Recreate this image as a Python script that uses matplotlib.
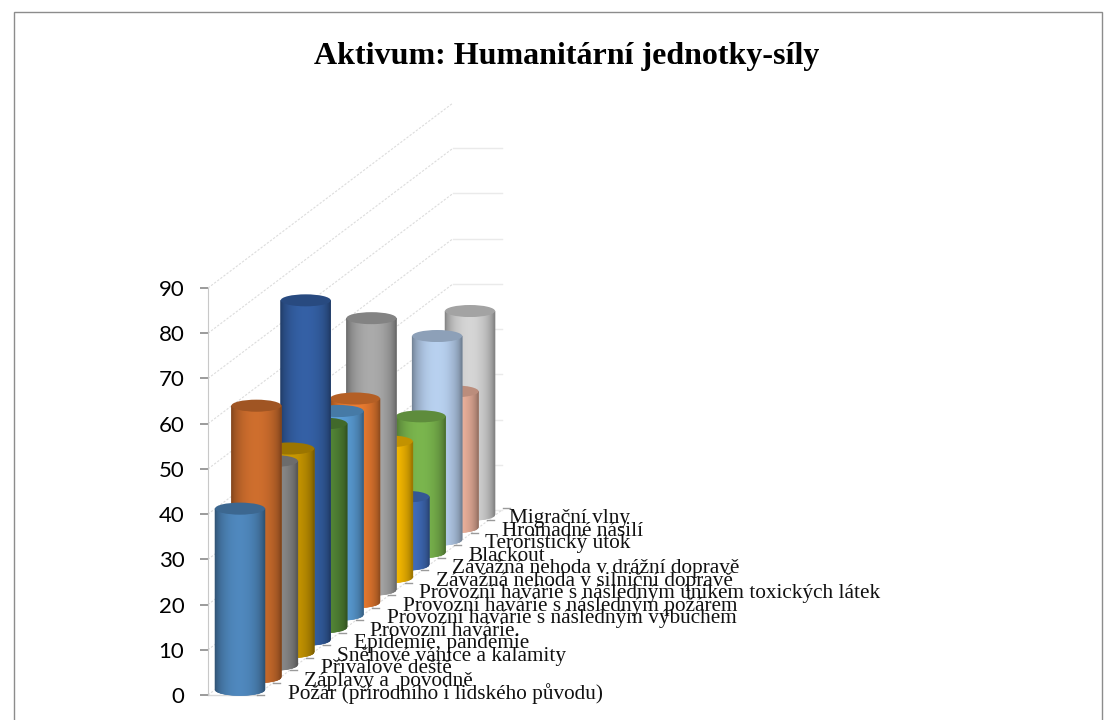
import numpy as np
import matplotlib
matplotlib.use("Agg")
import matplotlib.pyplot as plt
from matplotlib.patches import Ellipse, Rectangle, Polygon
from matplotlib.collections import PolyCollection
from matplotlib.colors import to_rgb

title = "Aktivum: Humanitární jednotky-síly"
categories = [
    "Požár (přírodního i lidského původu)",
    "Záplavy a  povodně",
    "Přívalové deště",
    "Sněhové vánice a kalamity",
    "Epidemie, pandemie",
    "Provozní havárie.",
    "Provozní havárie s následným výbuchem",
    "Provozní havárie s následným požárem",
    "Provozní havárie s následným únikem toxických látek",
    "Závažná nehoda v silniční dopravě",
    "Závažná nehoda v drážní dopravě",
    "Blackout",
    "Teroristický útok",
    "Hromadné násilí",
    "Migrační vlny",
]
values = [40, 60, 45, 45, 75, 45, 45, 45, 60, 30, 15, 30, 45, 30, 45]
colors = ["#4F88BE", "#D2702E", "#8E8E8E", "#CC9A00", "#3562A8", "#558A38", "#5CA0DA",
          "#ED7D31", "#ADADAD", "#FFC000", "#4472C4", "#7CB84F", "#BAD3F2", "#F6B9A3", "#D6D6D6"]
yticks = [0, 10, 20, 30, 40, 50, 60, 70, 80, 90]

W, H = 1114, 720
PX_X = 16.43           # pixels per category step
PX_Y = 407 / 90        # pixels per value unit
LIFT = 12.5 / PX_Y     # depth rise per category, in value units
R = 25 / PX_X          # cylinder radius, category units
EH = 6 / PX_Y          # ellipse half height, value units
BASE = 5.5 / PX_Y      # base centre of first cylinder

fig = plt.figure(figsize=(W / 100, H / 100), dpi=100, facecolor="white")
fig.add_artist(Rectangle((14 / W, -0.01), (1102 - 14) / W, 1.01 - 12 / H, transform=fig.transFigure,
                         fill=False, ec="#8C8C8C", lw=1))
left, right, bottom, top = 208, 502, 695, 288
ax = fig.add_axes([left / W, 1 - bottom / H, (right - left) / W, (bottom - top) / H])
ax.set_ylim(0, 90)
x0 = -32 / PX_X
ax.set_xlim(x0, x0 + (right - left) / PX_X)
ax.patch.set_visible(False)
for s in ["top", "right", "bottom"]:
    ax.spines[s].set_visible(False)
ax.spines["left"].set_color("#C8C8C8")
ax.set_xticks([])
ax.set_yticks(yticks)
ax.tick_params(axis="y", length=6, width=1.2, color="#8A8A8A", pad=11, labelsize=16, labelcolor="black")
for t in ax.get_yticklabels():
    t.set_family("Lato")

# walls and floor
GX = 245 / PX_X
GY = 185 / PX_Y
WALL = x0 + (right - left) / PX_X
for v in yticks:
    ax.plot([x0, x0 + GX], [v, v + GY], color="#DCDCDC", lw=0.8, ls=(0, (2, 1.5)), clip_on=False, zorder=1)
    if v < 90:
        ax.plot([x0 + GX, WALL], [v + GY, v + GY], color="#EAEAEA", lw=1, clip_on=False, zorder=1)
fx = x0 + 49 / PX_X
ax.plot([x0, fx], [0, 0], color="#D8D8D8", lw=1, clip_on=False, zorder=1)
ax.plot([fx, fx + GX], [0, GY], color="#DCDCDC", lw=0.8, ls=(0, (2, 1.5)), clip_on=False, zorder=1)

# category ticks
for i in range(len(categories) + 1):
    ax.plot([fx + i, fx + i + 7 / PX_X], [LIFT * i, LIFT * i], color="#9A9A9A", lw=1, clip_on=False, zorder=1.5)

# cylinders, back to front
u = np.linspace(-1, 1, 51)
for i in range(len(values) - 1, -1, -1):
    base = BASE + LIFT * i
    rgb = np.array(to_rgb(colors[i]))
    polys, fc = [], []
    for a, b in zip(u[:-1], u[1:]):
        ya0, yb0 = [base - EH * np.sqrt(1 - q * q) for q in (a, b)]
        ya1, yb1 = ya0 + values[i], yb0 + values[i]
        polys.append([(i + a * R, ya0), (i + b * R, yb0), (i + b * R, yb1), (i + a * R, ya1)])
        m = (a + b) / 2
        fc.append(rgb * (0.55 + 0.45 * np.sqrt(max(0, 1 - m * m)) ** 1.2))
    z = 10 + (len(values) - i)
    outline = [(i + q * R, base - EH * np.sqrt(1 - q * q)) for q in u] + [(i + R, base + values[i]), (i - R, base + values[i])]
    ax.add_patch(Polygon(outline, closed=True, fc=rgb * 0.75, ec="none", clip_on=False, zorder=z - 0.2))
    ax.add_collection(PolyCollection(polys, facecolors=fc, edgecolors=fc, linewidths=0.4, clip_on=False, zorder=z))
    ax.add_patch(Ellipse((i, base + values[i]), 2 * R, 2 * EH, fc=rgb * 0.76, ec="none", clip_on=False, zorder=z + 0.5))

# category labels
for i, name in enumerate(categories):
    dx = -9 / PX_X if i == len(categories) - 1 else 0
    ax.text(48 / PX_X + i + dx, LIFT * i + 1.2 / PX_Y, name, family="Liberation Serif", fontsize=15.3,
            color="#111111", va="center", ha="left", clip_on=False, zorder=40)

fig.text(566.5 / W, 1 - 56.5 / H, title, family="Liberation Serif", weight="bold", fontsize=23,
         color="black", ha="center", va="center")
fig.savefig("out.png", dpi=100, facecolor="white")
